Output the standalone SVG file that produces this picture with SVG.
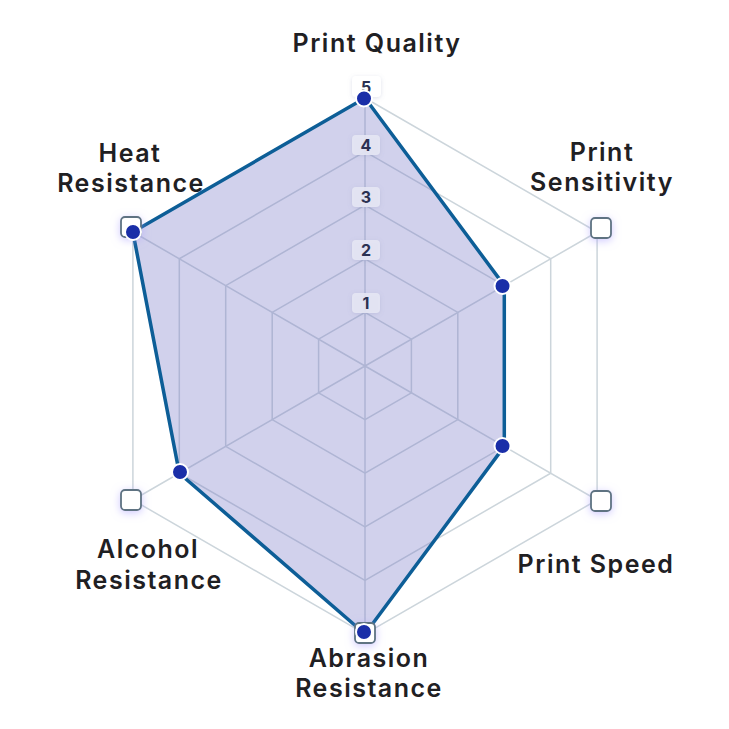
<svg xmlns="http://www.w3.org/2000/svg" width="729" height="729" viewBox="0 0 729 729">
<defs>
<style>
.grid{fill:none;stroke:#ccd5db;stroke-width:1.5}
.lbl{font-family:Inter,"Noto Sans",sans-serif;font-weight:600;font-size:25px;letter-spacing:1.5px;fill:#1f2023;text-anchor:middle}
.tickbox{fill:#e6e7f4;fill-opacity:0.9}
.tick{font-family:Inter,"Noto Sans",sans-serif;font-weight:700;font-size:16px;fill:#2b3152;text-anchor:middle}
.vx{fill:#ffffff;stroke:#5e7382;stroke-width:1.8}
.pt{fill:#1a2ea8;stroke:#ffffff;stroke-width:2}
</style>
<filter id="glow" x="-80%" y="-80%" width="260%" height="260%">
<feDropShadow dx="0" dy="2" stdDeviation="4" flood-color="#a99cff" flood-opacity="0.55"/>
</filter>
<filter id="sh" x="-50%" y="-50%" width="200%" height="200%">
<feDropShadow dx="0" dy="1" stdDeviation="2" flood-color="#8088b0" flood-opacity="0.25"/>
</filter>
</defs>
<rect width="729" height="729" fill="#ffffff"/>
<g id="grid">
<polygon class="grid" points="365,312.4 411.4,339.2 411.4,392.8 365,419.6 318.6,392.8 318.6,339.2"/>
<polygon class="grid" points="365,258.8 457.8,312.4 457.8,419.6 365,473.2 272.2,419.6 272.2,312.4"/>
<polygon class="grid" points="365,205.2 504.3,285.6 504.3,446.4 365,526.8 225.7,446.4 225.7,285.6"/>
<polygon class="grid" points="365,151.6 550.7,258.8 550.7,473.2 365,580.4 179.3,473.2 179.3,258.8"/>
<polygon class="grid" points="365,98 597.1,232 597.1,500 365,634 132.9,500 132.9,232"/>
<path class="grid" d="M365,366 L365,98 M365,366 L597.1,232 M365,366 L597.1,500 M365,366 L365,634 M365,366 L132.9,500 M365,366 L132.9,232"/>
</g>
<g id="connectors">
<polygon points="365,98 504.3,285.6 504.3,446.4 365,634 179.3,473.2 132.9,232" fill="#7474c4" fill-opacity="0.33" stroke="#0d5e97" stroke-width="3.5" stroke-linejoin="round"/>
</g>
<g id="ticks">
<g id="tick1"><rect class="tickbox" filter="url(#sh)" x="352" y="293" width="28" height="20" rx="4"/><text class="tick" x="366" y="309">1</text></g>
<g id="tick2"><rect class="tickbox" filter="url(#sh)" x="352" y="240" width="28" height="20" rx="4"/><text class="tick" x="366" y="256">2</text></g>
<g id="tick3"><rect class="tickbox" filter="url(#sh)" x="352" y="187" width="28" height="20" rx="4"/><text class="tick" x="366" y="202.5">3</text></g>
<g id="tick4"><rect class="tickbox" filter="url(#sh)" x="352" y="135" width="28" height="20" rx="4"/><text class="tick" x="366" y="151">4</text></g>
<g id="tick5"><rect fill="#ffffff" filter="url(#sh)" x="352" y="76" width="29" height="21" rx="4"/><text class="tick" x="366" y="92.5">5</text></g>
</g>
<g id="vertices" filter="url(#glow)">
<rect class="vx" x="591" y="218" width="20" height="20" rx="4"/>
<rect class="vx" x="591" y="491" width="20" height="20" rx="4"/>
<rect class="vx" x="355" y="623" width="20" height="20" rx="4"/>
<rect class="vx" x="121" y="490" width="20" height="20" rx="4"/>
<rect class="vx" x="121" y="217" width="20" height="20" rx="4"/>
</g>
<g id="points">
<circle class="pt" cx="364" cy="98.5" r="8"/>
<circle class="pt" cx="502.5" cy="286" r="8"/>
<circle class="pt" cx="502.5" cy="446" r="8"/>
<circle class="pt" cx="364" cy="632" r="8"/>
<circle class="pt" cx="180" cy="472" r="8"/>
<circle class="pt" cx="133" cy="232" r="8"/>
</g>
<g id="n-print-quality"><text class="lbl" x="377" y="52">Print Quality</text></g>
<g id="n-print-sensitivity"><text class="lbl" x="602" y="161">Print</text><text class="lbl" x="602" y="191">Sensitivity</text></g>
<g id="n-print-speed"><text class="lbl" x="596" y="573">Print Speed</text></g>
<g id="n-abrasion"><text class="lbl" x="369" y="667">Abrasion</text><text class="lbl" x="369" y="697">Resistance</text></g>
<g id="n-alcohol"><text class="lbl" x="148" y="558">Alcohol</text><text class="lbl" x="149" y="589">Resistance</text></g>
<g id="n-heat"><text class="lbl" x="130" y="162">Heat</text><text class="lbl" x="131" y="192">Resistance</text></g>
</svg>
